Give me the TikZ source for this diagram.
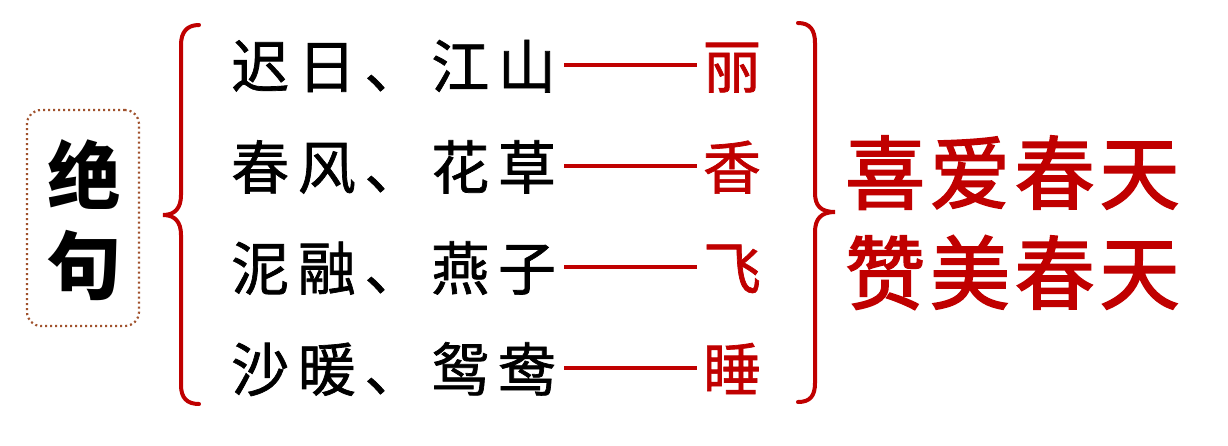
\documentclass[tikz,border=0pt]{standalone}
\usepackage{fontspec}
\newfontfamily\cjkrow[LetterSpace=15, FakeBold=1.2]{Noto Sans CJK SC}
\newfontfamily\cjkred[LetterSpace=6, FakeBold=2.2]{Noto Sans CJK SC}
\newfontfamily\cjkone[FakeBold=1.2]{Noto Sans CJK SC}
\newfontfamily\cjk{Noto Sans CJK SC}
\definecolor{myred}{HTML}{C00000}
\definecolor{mybrown}{HTML}{A0522D}
\begin{document}
\begin{tikzpicture}[x=1pt,y=-1pt,
  rowtext/.style={inner sep=0pt, anchor=base west, font=\cjkrow\fontsize{58}{60}\selectfont, text=black},
  redchar/.style={inner sep=0pt, anchor=base, font=\cjkone\fontsize{58}{60}\selectfont, text=myred},
  bigred/.style={inner sep=0pt, anchor=base west, font=\cjkred\fontsize{80}{84}\selectfont, text=myred},
  titlechar/.style={inner sep=0pt, anchor=base, font=\cjk\bfseries\fontsize{74}{76}\selectfont, text=black},
  redline/.style={draw=myred, line width=4pt},
  brace/.style={draw=myred, line width=4pt, line cap=round},
  dotbox/.style={draw=mybrown, line width=2.2pt, dash pattern=on 2pt off 3pt, rounded corners=14pt, minimum width=112pt, minimum height=216pt, inner sep=0pt}
]
\useasboundingbox[fill=white] (0,0) rectangle (1228,445);

% title box
\node[dotbox] (box) at (83,218) {};
\node[titlechar] (t1) at (84,203) {绝};
\node[titlechar] (t2) at (84,293) {句};

% left brace
\draw[brace] (199,25) .. controls (187,25) and (181,32) .. (181,45) -- (181,195)
  .. controls (181,208) and (175,215) .. (163,215)
  .. controls (175,215) and (181,222) .. (181,235) -- (181,385)
  .. controls (181,398) and (187,404) .. (199,404);

% rows
\node[rowtext] (l1) at (231,88) {迟日、江山};
\node[rowtext] (l2) at (231,189) {春风、花草};
\node[rowtext] (l3) at (231,290) {泥融、燕子};
\node[rowtext] (l4) at (231,391) {沙暖、鸳鸯};

\node[redchar] (r1) at (732,88) {丽};
\node[redchar] (r2) at (732,189) {香};
\node[redchar] (r3) at (732,290) {飞};
\node[redchar] (r4) at (732,391) {睡};

\coordinate (a1) at (564,65);  \coordinate (b1) at (697,65);
\coordinate (a2) at (564,166); \coordinate (b2) at (697,166);
\coordinate (a3) at (564,267); \coordinate (b3) at (697,267);
\coordinate (a4) at (564,368); \coordinate (b4) at (697,368);
\draw[redline] (a1) -- (b1);
\draw[redline] (a2) -- (b2);
\draw[redline] (a3) -- (b3);
\draw[redline] (a4) -- (b4);

% right brace
\draw[brace] (798,23) .. controls (810,23) and (815,30) .. (815,43) -- (815,193)
  .. controls (815,206) and (821,212) .. (835,212)
  .. controls (821,212) and (815,219) .. (815,232) -- (815,383)
  .. controls (815,396) and (810,402) .. (798,402);

% conclusion
\node[bigred] (c1) at (845,203) {喜爱春天};
\node[bigred] (c2) at (845,303) {赞美春天};
\end{tikzpicture}
\end{document}
